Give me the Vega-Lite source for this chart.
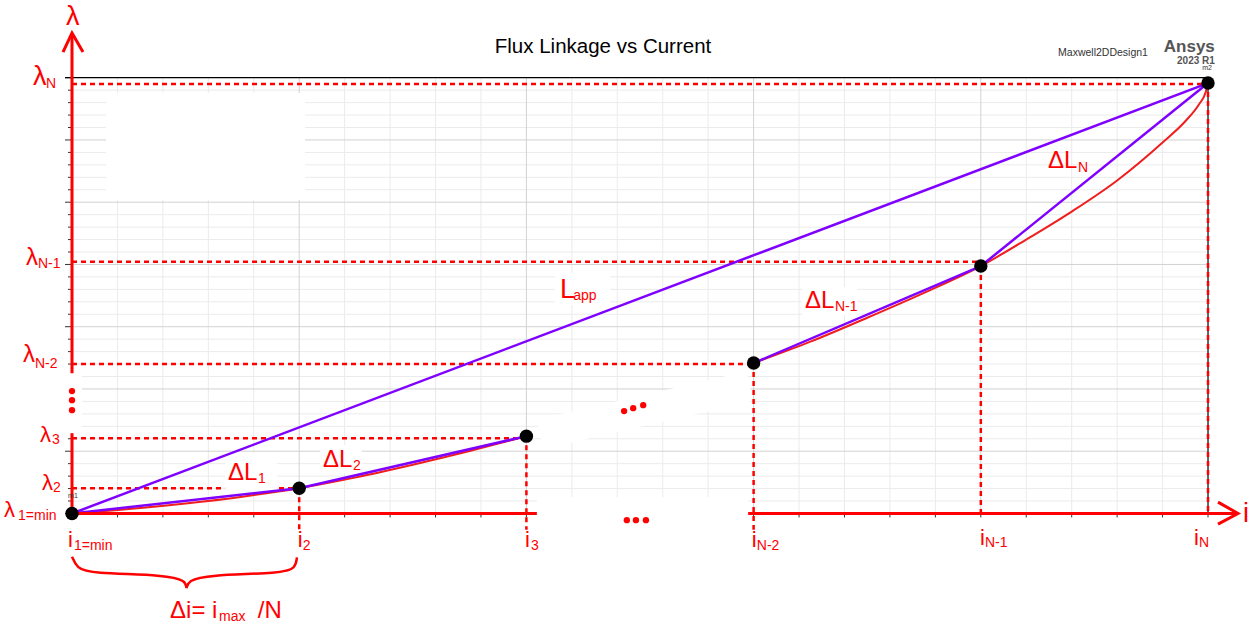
{
  "$schema": "https://vega.github.io/schema/vega-lite/v6.json",
  "width": 1253,
  "height": 626,
  "autosize": {"type": "fit", "contains": "padding"},
  "padding": 0,
  "background": "white",
  "config": {"view": {"stroke": null}, "text": {"font": "Liberation Sans"}},
  "encoding": {
    "x": {"field": "x", "type": "quantitative", "scale": {"domain": [-1.5845, 25.99], "nice": false, "zero": false}, "axis": null},
    "y": {"field": "y", "type": "quantitative", "scale": {"domain": [-9.039, 41.242], "nice": false, "zero": false}, "axis": null}
  },
  "datasets": {
    "vMinor": [
      {"x": 1, "y": 0, "y2": 35}, {"x": 2, "y": 0, "y2": 35}, {"x": 3, "y": 0, "y2": 35}, {"x": 4, "y": 0, "y2": 35},
      {"x": 6, "y": 0, "y2": 35}, {"x": 7, "y": 0, "y2": 35}, {"x": 8, "y": 0, "y2": 35}, {"x": 9, "y": 0, "y2": 35},
      {"x": 11, "y": 0, "y2": 35}, {"x": 12, "y": 0, "y2": 35}, {"x": 13, "y": 0, "y2": 35}, {"x": 14, "y": 0, "y2": 35},
      {"x": 16, "y": 0, "y2": 35}, {"x": 17, "y": 0, "y2": 35}, {"x": 18, "y": 0, "y2": 35}, {"x": 19, "y": 0, "y2": 35},
      {"x": 21, "y": 0, "y2": 35}, {"x": 22, "y": 0, "y2": 35}, {"x": 23, "y": 0, "y2": 35}, {"x": 24, "y": 0, "y2": 35}
    ],
    "vMajor": [
      {"x": 5, "y": 0, "y2": 35}, {"x": 10, "y": 0, "y2": 35}, {"x": 15, "y": 0, "y2": 35}, {"x": 20, "y": 0, "y2": 35}
    ],
    "hMinor": [
      {"y": 1, "x": 0, "x2": 25}, {"y": 2, "x": 0, "x2": 25}, {"y": 3, "x": 0, "x2": 25}, {"y": 4, "x": 0, "x2": 25},
      {"y": 6, "x": 0, "x2": 25}, {"y": 7, "x": 0, "x2": 25}, {"y": 8, "x": 0, "x2": 25}, {"y": 9, "x": 0, "x2": 25},
      {"y": 11, "x": 0, "x2": 25}, {"y": 12, "x": 0, "x2": 25}, {"y": 13, "x": 0, "x2": 25}, {"y": 14, "x": 0, "x2": 25},
      {"y": 16, "x": 0, "x2": 25}, {"y": 17, "x": 0, "x2": 25}, {"y": 18, "x": 0, "x2": 25}, {"y": 19, "x": 0, "x2": 25},
      {"y": 21, "x": 0, "x2": 25}, {"y": 22, "x": 0, "x2": 25}, {"y": 23, "x": 0, "x2": 25}, {"y": 24, "x": 0, "x2": 25},
      {"y": 26, "x": 0, "x2": 25}, {"y": 27, "x": 0, "x2": 25}, {"y": 28, "x": 0, "x2": 25}, {"y": 29, "x": 0, "x2": 25},
      {"y": 31, "x": 0, "x2": 25}, {"y": 32, "x": 0, "x2": 25}, {"y": 33, "x": 0, "x2": 25}, {"y": 34, "x": 0, "x2": 25}
    ],
    "hMajor": [
      {"y": 5, "x": 0, "x2": 25}, {"y": 10, "x": 0, "x2": 25}, {"y": 15, "x": 0, "x2": 25},
      {"y": 20, "x": 0, "x2": 25}, {"y": 25, "x": 0, "x2": 25}, {"y": 30, "x": 0, "x2": 25}
    ],
    "yTicks": [
      {"y": 0, "x": -0.154, "x2": 0}, {"y": 5, "x": -0.154, "x2": 0}, {"y": 10, "x": -0.154, "x2": 0}, {"y": 15, "x": -0.154, "x2": 0},
      {"y": 20, "x": -0.154, "x2": 0}, {"y": 25, "x": -0.154, "x2": 0}, {"y": 30, "x": -0.154, "x2": 0}, {"y": 35, "x": -0.154, "x2": 0},
      {"y": 1, "x": -0.088, "x2": 0}, {"y": 2, "x": -0.088, "x2": 0}, {"y": 3, "x": -0.088, "x2": 0}, {"y": 4, "x": -0.088, "x2": 0},
      {"y": 6, "x": -0.088, "x2": 0}, {"y": 7, "x": -0.088, "x2": 0}, {"y": 8, "x": -0.088, "x2": 0}, {"y": 9, "x": -0.088, "x2": 0},
      {"y": 11, "x": -0.088, "x2": 0}, {"y": 12, "x": -0.088, "x2": 0}, {"y": 13, "x": -0.088, "x2": 0}, {"y": 14, "x": -0.088, "x2": 0},
      {"y": 16, "x": -0.088, "x2": 0}, {"y": 17, "x": -0.088, "x2": 0}, {"y": 18, "x": -0.088, "x2": 0}, {"y": 19, "x": -0.088, "x2": 0},
      {"y": 21, "x": -0.088, "x2": 0}, {"y": 22, "x": -0.088, "x2": 0}, {"y": 23, "x": -0.088, "x2": 0}, {"y": 24, "x": -0.088, "x2": 0},
      {"y": 26, "x": -0.088, "x2": 0}, {"y": 27, "x": -0.088, "x2": 0}, {"y": 28, "x": -0.088, "x2": 0}, {"y": 29, "x": -0.088, "x2": 0},
      {"y": 31, "x": -0.088, "x2": 0}, {"y": 32, "x": -0.088, "x2": 0}, {"y": 33, "x": -0.088, "x2": 0}, {"y": 34, "x": -0.088, "x2": 0}
    ],
    "xTicks": [
      {"x": 1, "y": 0, "y2": -0.32}, {"x": 2, "y": 0, "y2": -0.32}, {"x": 3, "y": 0, "y2": -0.32}, {"x": 4, "y": 0, "y2": -0.32},
      {"x": 5, "y": 0, "y2": -0.32}, {"x": 6, "y": 0, "y2": -0.32}, {"x": 7, "y": 0, "y2": -0.32}, {"x": 8, "y": 0, "y2": -0.32},
      {"x": 9, "y": 0, "y2": -0.32}, {"x": 10, "y": 0, "y2": -0.32}, {"x": 15, "y": 0, "y2": -0.32}, {"x": 16, "y": 0, "y2": -0.32},
      {"x": 17, "y": 0, "y2": -0.32}, {"x": 18, "y": 0, "y2": -0.32}, {"x": 19, "y": 0, "y2": -0.32}, {"x": 20, "y": 0, "y2": -0.32},
      {"x": 21, "y": 0, "y2": -0.32}, {"x": 22, "y": 0, "y2": -0.32}, {"x": 23, "y": 0, "y2": -0.32}, {"x": 24, "y": 0, "y2": -0.32},
      {"x": 25, "y": 0, "y2": -0.32}
    ],
    "frame": [
      {"x": -0.154, "x2": 25, "y": 35, "y2": 35},
      {"x": 25, "x2": 25, "y": 0, "y2": 35}
    ],
    "patches": [
      {"x": 0.748, "x2": 5.128, "y": 33.77, "y2": 25.17},
      {"x": -0.264, "x2": 0.22, "y": 11.19, "y2": 6.53},
      {"x": 10.23, "x2": 14.88, "y": 1.31, "y2": -2.55}
    ],
    "band": [
      {"seg": "b", "x": 10.3, "y": 6.37},
      {"seg": "b", "x": 14.92, "y": 10.23}
    ],
    "dotted": [
      {"x": 0, "x2": 25, "y": 34.5, "y2": 34.5},
      {"x": 0, "x2": 20, "y": 20.21, "y2": 20.21},
      {"x": 0, "x2": 15, "y": 12.0, "y2": 12.0},
      {"x": 0, "x2": 10, "y": 6.05, "y2": 6.05},
      {"x": 0, "x2": 5, "y": 2.03, "y2": 2.03},
      {"x": 5, "x2": 5, "y": 2.03, "y2": -1.3},
      {"x": 10, "x2": 10, "y": 6.21, "y2": -1.3},
      {"x": 15, "x2": 15, "y": 12.08, "y2": -1.3},
      {"x": 20, "x2": 20, "y": 19.87, "y2": 0},
      {"x": 25, "x2": 25, "y": 34.57, "y2": 0}
    ],
    "labelBoxes": [
      {"x": 3.37, "x2": 4.51, "y": 4.84, "y2": 1.71},
      {"x": 5.46, "x2": 6.38, "y": 5.49, "y2": 3.24},
      {"x": 10.63, "x2": 11.84, "y": 19.31, "y2": 16.74},
      {"x": 16.07, "x2": 17.28, "y": 18.18, "y2": 15.93}
    ],
    "curve": [
      {"seg": "a", "x": 0, "y": 0}, {"seg": "a", "x": 1.25, "y": 0.35}, {"seg": "a", "x": 2.5, "y": 0.8},
      {"seg": "a", "x": 3.75, "y": 1.35}, {"seg": "a", "x": 5, "y": 2.03}, {"seg": "a", "x": 6.25, "y": 2.9},
      {"seg": "a", "x": 7.5, "y": 3.92}, {"seg": "a", "x": 8.75, "y": 5.02}, {"seg": "a", "x": 10, "y": 6.21},
      {"seg": "b", "x": 15, "y": 12.08}, {"seg": "b", "x": 16.25, "y": 13.8}, {"seg": "b", "x": 17.5, "y": 15.72},
      {"seg": "b", "x": 18.75, "y": 17.72}, {"seg": "b", "x": 20, "y": 19.87}, {"seg": "b", "x": 21, "y": 22.0},
      {"seg": "b", "x": 22, "y": 24.25}, {"seg": "b", "x": 23, "y": 26.75}, {"seg": "b", "x": 24, "y": 29.8},
      {"seg": "b", "x": 24.5, "y": 31.5}, {"seg": "b", "x": 24.8, "y": 32.85}, {"seg": "b", "x": 24.95, "y": 33.85},
      {"seg": "b", "x": 25, "y": 34.57}
    ],
    "chords": [
      {"seg": "app", "x": 0, "y": 0}, {"seg": "app", "x": 25, "y": 34.57},
      {"seg": "d1", "x": 0, "y": 0}, {"seg": "d1", "x": 5, "y": 2.03},
      {"seg": "d2", "x": 5, "y": 2.03}, {"seg": "d2", "x": 10, "y": 6.21},
      {"seg": "d3", "x": 15, "y": 12.08}, {"seg": "d3", "x": 20, "y": 19.87},
      {"seg": "d4", "x": 20, "y": 19.87}, {"seg": "d4", "x": 25, "y": 34.57}
    ],
    "axes": [
      {"x": 0, "x2": 10.23, "y": 0, "y2": 0},
      {"x": 14.88, "x2": 25.66, "y": 0, "y2": 0},
      {"x": 0, "x2": 0, "y": 0, "y2": 6.45},
      {"x": 0, "x2": 0, "y": 11.27, "y2": 38.6}
    ],
    "arrows": [
      {"seg": "ax", "o": 1, "x": 25.22, "y": 0.91}, {"seg": "ax", "o": 2, "x": 25.66, "y": 0}, {"seg": "ax", "o": 3, "x": 25.22, "y": -0.86},
      {"seg": "ay", "o": 1, "x": -0.198, "y": 37.06}, {"seg": "ay", "o": 2, "x": 0, "y": 38.6}, {"seg": "ay", "o": 3, "x": 0.242, "y": 37.06}
    ],
    "points": [
      {"x": 0, "y": 0}, {"x": 5, "y": 2.03}, {"x": 10, "y": 6.21},
      {"x": 15, "y": 12.08}, {"x": 20, "y": 19.87}, {"x": 25, "y": 34.57}
    ],
    "dots": [
      {"x": 0, "y": 9.83}, {"x": 0, "y": 9.1}, {"x": 0, "y": 8.3},
      {"x": 12.15, "y": 8.22}, {"x": 12.35, "y": 8.46}, {"x": 12.57, "y": 8.7},
      {"x": 12.21, "y": -0.54}, {"x": 12.41, "y": -0.54}, {"x": 12.63, "y": -0.54}
    ],
    "brace": [
      {"seg": "l", "o": 1, "x": 0, "y": -3.47}, {"seg": "l", "o": 2, "x": 0.11, "y": -4.4},
      {"seg": "l", "o": 3, "x": 0.4, "y": -4.8}, {"seg": "l", "o": 4, "x": 2.1, "y": -4.94},
      {"seg": "l", "o": 5, "x": 2.5, "y": -5.4}, {"seg": "l", "o": 6, "x": 2.52, "y": -6.0},
      {"seg": "r", "o": 1, "x": 2.52, "y": -6.0}, {"seg": "r", "o": 2, "x": 2.56, "y": -5.4},
      {"seg": "r", "o": 3, "x": 2.96, "y": -4.94}, {"seg": "r", "o": 4, "x": 4.63, "y": -4.8},
      {"seg": "r", "o": 5, "x": 4.92, "y": -4.4}, {"seg": "r", "o": 6, "x": 4.95, "y": -3.52}
    ],
    "big": [
      {"x": -0.132, "y": 39.23, "t": "λ"},
      {"x": 25.77, "y": -0.7, "t": "i"},
      {"x": -0.858, "y": 34.41, "t": "λ"},
      {"x": 10.74, "y": 17.3, "t": "L"}
    ],
    "mid": [
      {"x": -1.012, "y": 19.95, "t": "λ"},
      {"x": -1.078, "y": 12.16, "t": "λ"},
      {"x": 3.433, "y": 2.68, "t": "ΔL"},
      {"x": 5.524, "y": 3.72, "t": "ΔL"},
      {"x": 16.13, "y": 16.5, "t": "ΔL"},
      {"x": 21.48, "y": 27.74, "t": "ΔL"},
      {"x": 2.157, "y": -8.41, "t": "Δi= i"},
      {"x": 4.09, "y": -8.41, "t": "/N"}
    ],
    "small": [
      {"x": -0.704, "y": 5.73, "t": "λ"},
      {"x": -0.66, "y": 1.87, "t": "λ"},
      {"x": -1.496, "y": -0.3, "t": "λ"},
      {"x": -0.088, "y": -2.71, "t": "i"},
      {"x": 4.97, "y": -2.71, "t": "i"},
      {"x": 9.97, "y": -2.71, "t": "i"},
      {"x": 14.96, "y": -2.71, "t": "i"},
      {"x": 19.98, "y": -2.55, "t": "i"},
      {"x": 24.69, "y": -2.55, "t": "i"}
    ],
    "subs": [
      {"x": -0.572, "y": 34.17, "t": "N"},
      {"x": -0.748, "y": 19.71, "t": "N-1"},
      {"x": -0.814, "y": 11.68, "t": "N-2"},
      {"x": -0.44, "y": 5.57, "t": "3"},
      {"x": -0.418, "y": 1.71, "t": "2"},
      {"x": -1.188, "y": -0.54, "t": "1=min"},
      {"x": 0.044, "y": -2.95, "t": "1=min"},
      {"x": 5.08, "y": -2.95, "t": "2"},
      {"x": 10.1, "y": -2.95, "t": "3"},
      {"x": 15.07, "y": -2.95, "t": "N-2"},
      {"x": 20.09, "y": -2.71, "t": "N-1"},
      {"x": 24.8, "y": -2.71, "t": "N"},
      {"x": 4.093, "y": 2.43, "t": "1"},
      {"x": 6.184, "y": 3.48, "t": "2"},
      {"x": 11.03, "y": 17.14, "t": "app"},
      {"x": 16.79, "y": 16.26, "t": "N-1"},
      {"x": 22.14, "y": 27.42, "t": "N"},
      {"x": 3.235, "y": -8.65, "t": "max"}
    ],
    "title": [{"x": 11.686, "y": 36.98, "t": "Flux Linkage vs Current"}],
    "design": [{"x": 21.7, "y": 36.74, "t": "Maxwell2DDesign1"}],
    "brand": [{"x": 25.15, "y": 37.06, "t": "Ansys"}],
    "version": [{"x": 25.15, "y": 36.1, "t": "2023 R1"}],
    "markers": [
      {"x": 24.98, "y": 35.62, "t": "m2"},
      {"x": 0.02, "y": 1.23, "t": "m1"}
    ]
  },
  "layer": [
    {"data": {"name": "vMinor"}, "mark": {"type": "rule", "color": "#ebebeb", "strokeWidth": 1}, "encoding": {"y2": {"field": "y2"}}},
    {"data": {"name": "hMinor"}, "mark": {"type": "rule", "color": "#ebebeb", "strokeWidth": 1}, "encoding": {"x2": {"field": "x2"}}},
    {"data": {"name": "vMajor"}, "mark": {"type": "rule", "color": "#d2d2d2", "strokeWidth": 1}, "encoding": {"y2": {"field": "y2"}}},
    {"data": {"name": "hMajor"}, "mark": {"type": "rule", "color": "#d2d2d2", "strokeWidth": 1}, "encoding": {"x2": {"field": "x2"}}},
    {"data": {"name": "yTicks"}, "mark": {"type": "rule", "color": "#333333", "strokeWidth": 1}, "encoding": {"x2": {"field": "x2"}}},
    {"data": {"name": "xTicks"}, "mark": {"type": "rule", "color": "#333333", "strokeWidth": 1}, "encoding": {"y2": {"field": "y2"}}},
    {"data": {"name": "frame"}, "mark": {"type": "rule", "color": "#000000", "strokeWidth": 1.2}, "encoding": {"x2": {"field": "x2"}, "y2": {"field": "y2"}}},
    {"data": {"name": "patches"}, "mark": {"type": "rect", "color": "white"}, "encoding": {"x2": {"field": "x2"}, "y2": {"field": "y2"}}},
    {"data": {"name": "band"}, "mark": {"type": "line", "color": "white", "strokeWidth": 30, "strokeCap": "butt"}, "encoding": {"detail": {"field": "seg"}}},
    {"data": {"name": "dotted"}, "mark": {"type": "rule", "color": "#ff0000", "strokeWidth": 2.5, "strokeDash": [5, 4]}, "encoding": {"x2": {"field": "x2"}, "y2": {"field": "y2"}}},
    {"data": {"name": "labelBoxes"}, "mark": {"type": "rect", "color": "white"}, "encoding": {"x2": {"field": "x2"}, "y2": {"field": "y2"}}},
    {"data": {"name": "curve"}, "mark": {"type": "line", "color": "#f01e1e", "strokeWidth": 2, "interpolate": "monotone"}, "encoding": {"detail": {"field": "seg"}}},
    {"data": {"name": "chords"}, "mark": {"type": "line", "color": "#7f00ff", "strokeWidth": 2.5}, "encoding": {"detail": {"field": "seg"}}},
    {"data": {"name": "axes"}, "mark": {"type": "rule", "color": "#ff0000", "strokeWidth": 3}, "encoding": {"x2": {"field": "x2"}, "y2": {"field": "y2"}}},
    {"data": {"name": "arrows"}, "mark": {"type": "line", "color": "#ff0000", "strokeWidth": 3}, "encoding": {"detail": {"field": "seg"}, "order": {"field": "o"}}},
    {"data": {"name": "brace"}, "mark": {"type": "line", "color": "#ff0000", "strokeWidth": 2.5, "interpolate": "basis"}, "encoding": {"detail": {"field": "seg"}, "order": {"field": "o"}}},
    {"data": {"name": "points"}, "mark": {"type": "circle", "color": "black", "size": 180, "opacity": 1}},
    {"data": {"name": "dots"}, "mark": {"type": "circle", "color": "#ff0000", "size": 40, "opacity": 1}},
    {"data": {"name": "big"}, "mark": {"type": "text", "color": "#ff0000", "fontSize": 27, "align": "left", "baseline": "alphabetic"}, "encoding": {"text": {"field": "t"}}},
    {"data": {"name": "mid"}, "mark": {"type": "text", "color": "#ff0000", "fontSize": 24, "align": "left", "baseline": "alphabetic"}, "encoding": {"text": {"field": "t"}}},
    {"data": {"name": "small"}, "mark": {"type": "text", "color": "#ff0000", "fontSize": 22, "align": "left", "baseline": "alphabetic"}, "encoding": {"text": {"field": "t"}}},
    {"data": {"name": "subs"}, "mark": {"type": "text", "color": "#ff0000", "fontSize": 14, "align": "left", "baseline": "alphabetic"}, "encoding": {"text": {"field": "t"}}},
    {"data": {"name": "title"}, "mark": {"type": "text", "color": "#000000", "fontSize": 20.5, "align": "center", "baseline": "alphabetic"}, "encoding": {"text": {"field": "t"}}},
    {"data": {"name": "design"}, "mark": {"type": "text", "color": "#333333", "fontSize": 10.5, "align": "left", "baseline": "alphabetic"}, "encoding": {"text": {"field": "t"}}},
    {"data": {"name": "brand"}, "mark": {"type": "text", "color": "#555555", "fontSize": 17, "fontWeight": "bold", "align": "right", "baseline": "alphabetic"}, "encoding": {"text": {"field": "t"}}},
    {"data": {"name": "version"}, "mark": {"type": "text", "color": "#555555", "fontSize": 10, "fontWeight": "bold", "align": "right", "baseline": "alphabetic"}, "encoding": {"text": {"field": "t"}}},
    {"data": {"name": "markers"}, "mark": {"type": "text", "color": "#333333", "fontSize": 7, "align": "center", "baseline": "alphabetic"}, "encoding": {"text": {"field": "t"}}}
  ]
}
